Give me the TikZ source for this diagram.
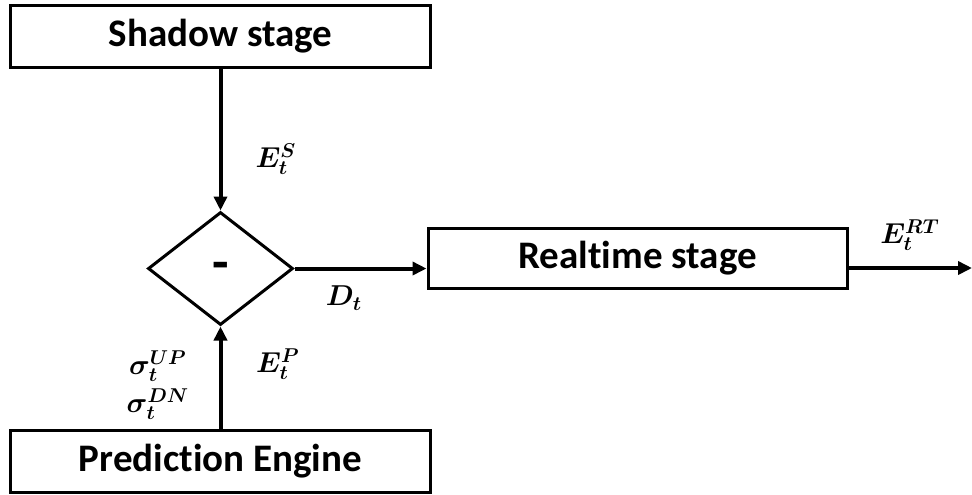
\documentclass[tikz,border=0pt]{standalone}
\usepackage{bm}
\usepackage{fontspec}
\setmainfont{Carlito}[Ligatures=CommonOff]
\usetikzlibrary{arrows.meta,shapes.geometric}

\begin{document}
\begin{tikzpicture}[x=0.5pt,y=-0.5pt,
  stagebox/.style={draw,line width=1.5pt,minimum width=210pt,minimum height=31pt,
    inner sep=0pt,font=\fontsize{19.5}{22}\selectfont\bfseries},
  flow/.style={line width=2pt,-{Triangle[length=7pt,width=6.5pt]}},
  lbl/.style={inner sep=0pt,font=\fontsize{14.4}{16}\selectfont}]
  % page frame
  \useasboundingbox (0,0) rectangle (972,494);

  % blocks
  \node[stagebox] (shadow) at (220.5,36.5) {Shadow stage};
  \node[stagebox] (pred) at (220.5,461) {Prediction Engine};
  \node[stagebox,minimum width=209.5pt,minimum height=30pt] (rt) at (637.5,258) {Realtime stage};
  \node[draw,diamond,line width=1.5pt,minimum width=72.5pt,minimum height=56.5pt,
    inner sep=0pt] (diff) at (220.5,268.5) {};
  \node[inner sep=0pt,font=\fontsize{27}{28}\selectfont\bfseries] (minus) at (220.5,271) {-};
  \coordinate (out) at (972,268);

  % connectors
  \draw[flow] (shadow) -- (diff.north);
  \draw[flow] (pred) -- (diff.south);
  \draw[flow] (diff.east) -- (diff.east -| rt.west);
  \draw[flow] (out -| rt.east) -- (out);

  % signal labels
  \node[lbl] (es) at (276,159) {$\bm{E_t^S}$};
  \node[lbl] (dt) at (344,298) {$\bm{D_t}$};
  \node[lbl] (ep) at (278,364) {$\bm{E_t^P}$};
  \node[lbl,align=center] (sig) at (158,385)
    {$\bm{\sigma_t^{UP}}$\\[3pt]$\bm{\sigma_t^{DN}}$};
  \node[lbl] (ert) at (910,235) {$\bm{E_t^{RT}}$};
\end{tikzpicture}
\end{document}
